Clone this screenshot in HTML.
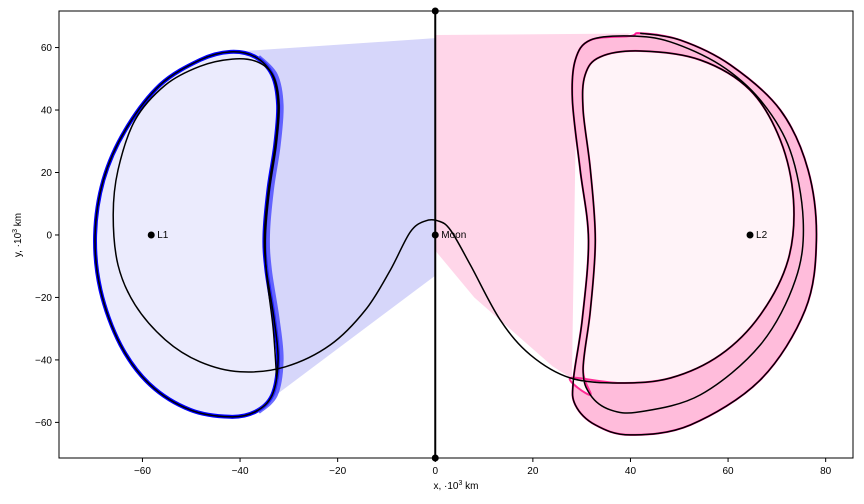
<!DOCTYPE html>
<html><head><meta charset="utf-8"><style>
body{margin:0;background:#fff;}
svg{display:block;font-family:"Liberation Sans","DejaVu Sans",sans-serif;}
</style></head><body>
<svg id="c" width="864" height="504"></svg>
<script>
const xTicks=[-60,-40,-20,0,20,40,60,80];
const yTicks=[-60,-40,-20,0,20,40,60];
const points=[{n:"L1",x:-58.2,y:0},{n:"Moon",x:0,y:0},{n:"L2",x:64.5,y:0}];
const blueOuterX=[-42,-48.2,-56.4,-63.5,-68,-69.7,-68.6,-64.5,-58.4,-50.2,-42,-36.9,-33.4,-32.2,-33,-34.6,-35,-34.2,-32.8,-32.2,-33.4,-36.9];
const blueOuterY=[58.6,56,48,33.6,17.6,0,-17.6,-35.2,-48,-56,-58.2,-56.6,-51.2,-40,-27.2,-11.2,0,14.4,28.8,41.6,51.2,57];
const spiralX=[-32.5,-33.2,-34.6,-34.8,-34,-32.6,-32,-33.2,-36.6,-41.6,-48.2,-55.3,-61.5,-65,-66,-65,-61.5,-55.3,-48.2,-40,-30.7,-21.5,-14.3,-9.2,-5.1,-2,0.6,3.1,7.2,13.3,19.5,27.7,37.9,48.2,58.4,66.6,72.3,73.4,70.7,64.5,54.3,42,33.8,30.7,30.3,31.8,32.8,31.8,30.3,31.8,35.9,42,54.3,66.6,73.8,75.4,72.7,66.6,58.4,48.2,40,31.8,28.7,28.1,29.7,31.4,30.1,28.3,28.7,32.8,40,52.3,66.6,75.8,78.1,76.4,70.7,60.5,50.2,42];
const spiralY=[-46,-30,-12,0,14,28.8,41.6,51,55.5,56.3,54,48,36.8,20.8,6.4,-9.6,-22.4,-33.6,-40.6,-43.8,-42.2,-35.2,-24,-11.2,1,4.5,4.5,1.6,-9.6,-27.2,-38.4,-45.8,-47.4,-45.8,-38.4,-25.6,-8,11.2,30.4,46.4,56,58.9,57,51.2,40,20.8,-1.6,-24,-43,-51.2,-56,-56.6,-51.2,-35.2,-14.4,4.8,27.2,43.2,54.4,61.8,63.7,62.4,56,43.2,20.8,-1.6,-27.2,-46.4,-54.4,-60.8,-64,-60.8,-46.4,-24,-1.6,20.8,40,54.4,62.4,64.6];
const pinkOuterX=[42,50.2,60.5,70.7,76.4,78.1,75.8,66.6,52.3,40,32.8,28.7,28.3,30.1,31.4,29.7,28.1,28.7,31.8,40];
const pinkOuterY=[64.6,62.4,54.4,40,20.8,-1.6,-24,-46.4,-60.8,-64,-60.8,-54.4,-46.4,-27.2,-1.6,20.8,43.2,56,62.4,63.7];

const X0=59,X1=853,Y0=11,Y1=458,xmin=-77.1,xmax=85.6,ymin=-71.4,ymax=71.7;
const sx=v=>X0+(v-xmin)/(xmax-xmin)*(X1-X0);
const sy=v=>Y1-(v-ymin)/(ymax-ymin)*(Y1-Y0);
const svg=document.getElementById('c');
const NS='http://www.w3.org/2000/svg';
function mk(t,a,p){const e=document.createElementNS(NS,t);for(const k in a)e.setAttribute(k,a[k]);(p||svg).appendChild(e);return e;}
function smooth(P,closed){
 let d='M'+P[0][0].toFixed(1)+','+P[0][1].toFixed(1);const n=P.length;
 const g=i=>closed?P[(i+n)%n]:P[Math.max(0,Math.min(n-1,i))];
 const last=closed?n:n-1;
 for(let i=0;i<last;i++){const p0=g(i-1),p1=g(i),p2=g(i+1),p3=g(i+2);
  d+=`C${(p1[0]+(p2[0]-p0[0])/6).toFixed(1)},${(p1[1]+(p2[1]-p0[1])/6).toFixed(1)} ${(p2[0]-(p3[0]-p1[0])/6).toFixed(1)},${(p2[1]-(p3[1]-p1[1])/6).toFixed(1)} ${p2[0].toFixed(1)},${p2[1].toFixed(1)}`;}
 return d+(closed?'Z':'');}
const pts=(xs,ys)=>xs.map((x,i)=>[sx(x),sy(ys[i])]);
const clip=mk('clipPath',{id:'pa'},mk('defs',{}));mk('rect',{x:X0,y:Y0,width:X1-X0,height:Y1-Y0},clip);
const g=mk('g',{'clip-path':'url(#pa)'});
const bo=pts(blueOuterX,blueOuterY), po=pts(pinkOuterX,pinkOuterY);
// blue fan
let e=mk('path',{d:`M${sx(0)},${sy(63)} L${sx(-42)},${sy(58.6)} `+smooth(bo.slice(0,11),false).replace('M','L')+` L${sx(-35)},${sy(-54)} L${sx(0)},${sy(-13)} Z`,fill:'#d6d6fa',stroke:'none'},g);

e=mk('path',{d:smooth(bo,true),fill:'#ebebfd',stroke:'#0000ff','stroke-width':4},g);

e=mk('path',{d:smooth(bo.slice(11),false),fill:'none',stroke:'#3030ff','stroke-width':5,'stroke-opacity':0.7,transform:'translate(3,0)'},g);

// pink fan
e=mk('path',{d:`M${sx(0)},${sy(64)} L${sx(40)},${sy(64.5)} L${sx(29)},${sy(55)} L${sx(28)},${sy(-46)} L${sx(24)},${sy(-42)} L${sx(8)},${sy(-20)} L${sx(0)},${sy(-5)} Z`,fill:'#ffd6e9',stroke:'none'},g);

e=mk('path',{d:smooth(po,true),fill:'#ffbcdb',stroke:'#ff1493','stroke-width':2},g);

const innerP=pts(spiralX.slice(31,50),spiralY.slice(31,50));
e=mk('path',{d:smooth(innerP,true),fill:'#fff3f8',stroke:'#ff2a94','stroke-width':2},g);

// moon axis
e=mk('line',{x1:sx(0),x2:sx(0),y1:Y0,y2:Y1,stroke:'#000','stroke-width':2},svg);

mk('circle',{cx:sx(0),cy:Y0,r:3.5,fill:'#000'});mk('circle',{cx:sx(0),cy:Y1,r:3.5,fill:'#000'});
e=mk('path',{d:smooth(pts(spiralX,spiralY),false),fill:'none',stroke:'#000','stroke-width':1.5},g);

e=mk('path',{d:smooth(bo,true),fill:'none',stroke:'#000','stroke-width':1.5},g);

points.forEach(p=>{
 const c=mk('circle',{cx:sx(p.x),cy:sy(p.y),r:3.5,fill:'#000'});
 
 
 const t=mk('text',{x:sx(p.x)+6,y:sy(p.y)+3,'font-size':10,fill:'#000'});t.textContent=p.n;
 
 
});
e=mk('rect',{x:X0,y:Y0,width:X1-X0,height:Y1-Y0,fill:'none',stroke:'#000','stroke-width':1});

xTicks.forEach(v=>{const x=sx(v);mk('line',{x1:x,x2:x,y1:Y1,y2:Y1+4,stroke:'#000'});
 const t=mk('text',{x:x,y:Y1+16,'font-size':10,'text-anchor':'middle'});t.textContent=v<0?'\u2212'+(-v):v;
 
 });
yTicks.forEach(v=>{const y=sy(v);mk('line',{x1:X0-4,x2:X0,y1:y,y2:y,stroke:'#000'});
 const t=mk('text',{x:X0-7,y:y+3.5,'font-size':10,'text-anchor':'end'});t.textContent=v<0?'\u2212'+(-v):v;
 
 });
</script>
<svg style="position:absolute;left:0;top:0" width="864" height="504">
<text x="456" y="489" font-size="10" text-anchor="middle" font-family="Liberation Sans,sans-serif">x, ·10<tspan dy="-4" font-size="7">3</tspan><tspan dy="4"> km</tspan></text>
<text transform="translate(21,235) rotate(-90)" font-size="10" text-anchor="middle" font-family="Liberation Sans,sans-serif">y, ·10<tspan dy="-4" font-size="7">3</tspan><tspan dy="4"> km</tspan></text>
</svg>
</body></html>
